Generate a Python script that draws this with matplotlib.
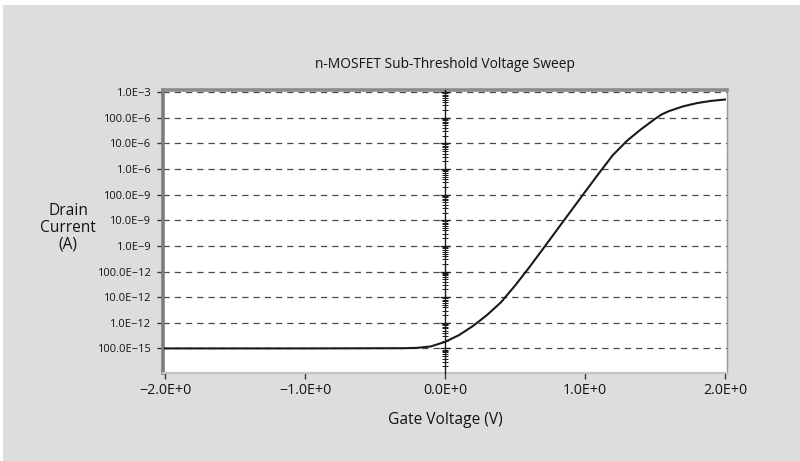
import numpy as np
import matplotlib
matplotlib.use("Agg")
import matplotlib.pyplot as plt
from matplotlib.patches import Rectangle
from matplotlib.ticker import FixedLocator, FuncFormatter, LogLocator, NullLocator

plt.rcParams["font.family"] = ["Open Sans", "DejaVu Sans"]

# gate sweep
gate_v = [-2.0, -1.0, -0.3, -0.2, -0.1, 0.0, 0.1, 0.2, 0.3, 0.4, 0.5,
          0.6, 0.7, 0.8, 0.9, 1.0, 1.1, 1.2, 1.3, 1.4, 1.5, 1.55, 1.6,
          1.7, 1.8, 1.9, 2.0]
drain_i = [1.0e-13, 1.0e-13, 1.02e-13, 1.05e-13, 1.2e-13, 1.8e-13, 3.3e-13,
           7.5e-13, 2.0e-12, 6.3e-12, 2.8e-11, 1.4e-10, 7.6e-10, 4.2e-9,
           2.3e-8, 1.26e-7, 6.8e-7, 3.5e-6, 1.25e-5, 3.5e-5, 8.9e-5, 1.35e-4,
           1.8e-4, 2.75e-4, 3.7e-4, 4.5e-4, 5.1e-4]

y_ticks = [1e-13, 1e-12, 1e-11, 1e-10, 1e-9, 1e-8, 1e-7, 1e-6, 1e-5, 1e-4, 1e-3]
x_ticks = [-2.0, -1.0, 0.0, 1.0, 2.0]

BG = "#dcdddf"
INK = "#141414"
MINUS = "\u2212"


def eng_label(v, pos=None):
    """Engineering notation: mantissa with exponent in steps of three."""
    e = int(np.floor(np.log10(v) + 1e-9))
    eng = 3 * int(np.floor(e / 3))
    mant = v / 10.0 ** eng
    return f"{mant:.1f}E{eng:+d}".replace("-", MINUS)


def volt_label(v, pos=None):
    return f"{v:.1f}E+0".replace("-", MINUS)


fig = plt.figure(figsize=(8.0, 4.61), dpi=100, facecolor="white")
fig.patches.append(Rectangle((3 / 800, 0), 797 / 800, 456 / 461,
                             transform=fig.transFigure, facecolor=BG,
                             edgecolor="none", zorder=-10))

ax = fig.add_axes([163 / 800, 88 / 461, 564 / 800, 283 / 461])
ax.set_facecolor("white")
ax.set_yscale("log")
ax.set_xlim(-2.015, 2.015)
ax.set_ylim(1.1e-14, 1.2e-3)

ax.plot(gate_v, drain_i, color="#1a1a1a", lw=1.5, zorder=3)

ax.yaxis.set_major_locator(FixedLocator(y_ticks))
ax.yaxis.set_minor_locator(NullLocator())
ax.yaxis.set_major_formatter(FuncFormatter(eng_label))
ax.xaxis.set_major_locator(FixedLocator(x_ticks))
ax.xaxis.set_major_formatter(FuncFormatter(volt_label))

ax.grid(axis="y", which="major", color="#4a4a4a", ls=(0, (5, 4)), lw=0.9)
ax.tick_params(axis="y", direction="out", length=4, width=1, color="#333333",
               labelsize=8, pad=5, labelcolor=INK)
ax.tick_params(axis="x", direction="out", length=4, width=1, color="#333333",
               labelsize=10.3, pad=3, labelcolor=INK)

ax.spines["left"].set_color("#7d7d7d")
ax.spines["left"].set_linewidth(2.6)
ax.spines["top"].set_color("#8c8c8c")
ax.spines["top"].set_linewidth(2.6)
ax.spines["right"].set_color("#9a9a9a")
ax.spines["right"].set_linewidth(1.0)
ax.spines["bottom"].set_color("#c4c4c4")
ax.spines["bottom"].set_linewidth(1.6)

# second y axis drawn through V = 0 with log minor ticks
ax0 = ax.twinx()
ax0.set_yscale("log")
ax0.set_ylim(ax.get_ylim())
for side in ("top", "right", "bottom"):
    ax0.spines[side].set_visible(False)
ax0.spines["left"].set_visible(True)
ax0.spines["left"].set_position(("data", 0.0))
ax0.spines["left"].set_color("#1a1a1a")
ax0.spines["left"].set_linewidth(1.0)
ax0.yaxis.set_ticks_position("left")
ax0.yaxis.set_major_locator(LogLocator(base=10, numticks=30))
ax0.yaxis.set_minor_locator(LogLocator(base=10, subs=np.arange(2, 10), numticks=30))
ax0.tick_params(axis="y", which="major", direction="inout", length=7, width=0.9,
                color="#1a1a1a", labelleft=False, labelright=False)
ax0.tick_params(axis="y", which="minor", direction="inout", length=5, width=0.7,
                color="#1a1a1a", labelleft=False, labelright=False)

ax.set_title("n-MOSFET Sub-Threshold Voltage Sweep", fontsize=9.9,
             color=INK, pad=16)
ax.set_xlabel("Gate Voltage (V)", fontsize=11.2, color=INK, labelpad=10)
fig.text(68 / 800, 1 - 228 / 461, "Drain\nCurrent\n(A)", fontsize=11.2,
         color=INK, ha="center", va="center", linespacing=1.05)

fig.savefig("out.png", dpi=100, facecolor=fig.get_facecolor())
